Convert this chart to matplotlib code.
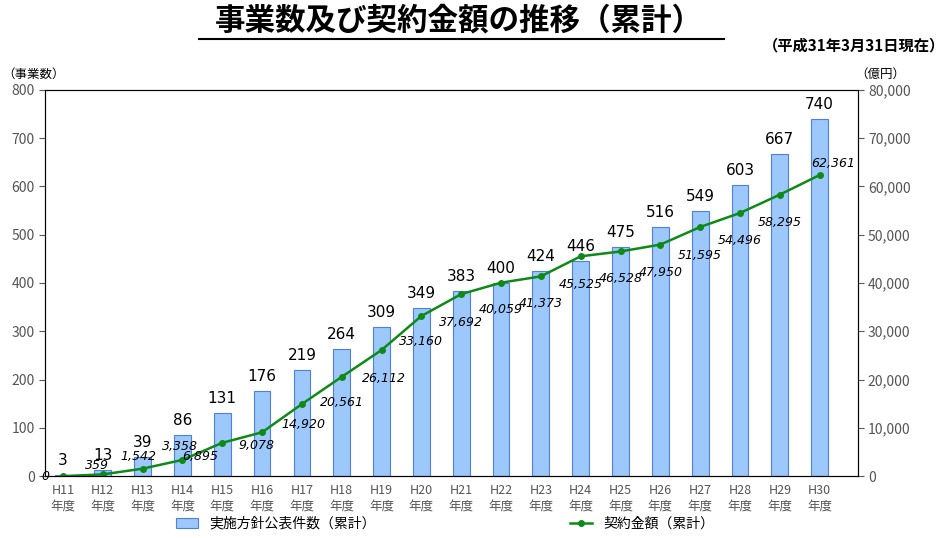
import matplotlib.pyplot as plt
import numpy as np

plt.rcParams['font.family'] = ['Noto Sans CJK JP', 'DejaVu Sans']

years = ['H11', 'H12', 'H13', 'H14', 'H15', 'H16', 'H17', 'H18', 'H19', 'H20',
         'H21', 'H22', 'H23', 'H24', 'H25', 'H26', 'H27', 'H28', 'H29', 'H30']
projects = [3, 13, 39, 86, 131, 176, 219, 264, 309, 349,
            383, 400, 424, 446, 475, 516, 549, 603, 667, 740]
amounts = [0, 359, 1542, 3358, 6895, 9078, 14920, 20561, 26112, 33160,
           37692, 40059, 41373, 45525, 46528, 47950, 51595, 54496, 58295, 62361]

# label offsets in pixels (dx, dy up-positive)
offs = [(-18, 0), (-6, 9), (-4, 12), (-2, 13), (-22, -14), (-6, -13), (2, -20),
        (0, -26), (2, -28), (0, -25), (0, -28), (0, -27), (0, -27), (0, -28),
        (0, -27), (0, -28), (0, -28), (0, -28), (0, -28), (14, 12)]

fig = plt.figure(figsize=(9.47, 5.38), dpi=100)
ax = fig.add_axes([0.0475, 0.115, 0.858, 0.718])
x = np.arange(len(years))
ax.bar(x, projects, width=0.42, color='#9dc8fb', edgecolor='#4f7fe0', linewidth=0.8,
       label='実施方針公表件数（累計）')
for xi, v in zip(x, projects):
    ax.annotate(str(v), (xi, v), xytext=(0, 7), textcoords='offset pixels',
                ha='center', va='bottom', fontsize=11, family='DejaVu Sans')
ax.set_ylim(0, 800)
ax.set_yticks(range(0, 801, 100))
ax.set_xlim(-0.45, len(years) - 0.05)
ax.set_xticks(x)
ax.set_xticklabels([y + '\n年度' for y in years], fontsize=9, color='#555555')
ax.tick_params(axis='y', labelsize=10, colors='#555555', length=4)
ax.tick_params(axis='x', length=0, pad=6)
for s in ax.spines.values():
    s.set_color('#333333')

ax2 = ax.twinx()
ax2.plot(x, amounts, color='#0e8a16', marker='o', markersize=4, linewidth=1.8,
         label='契約金額（累計）')
for xi, v, (dx, dy) in zip(x, amounts, offs):
    ax2.annotate(f'{v:,}', (xi, v), xytext=(dx, dy), textcoords='offset pixels',
                 ha='center', va='center', fontsize=9, style='italic', family='DejaVu Sans')
ax2.set_ylim(0, 80000)
ax2.set_yticks(range(0, 80001, 10000))
ax2.set_yticklabels([f'{v:,}' for v in range(0, 80001, 10000)])
ax2.tick_params(axis='y', labelsize=10, colors='#555555', length=4)

fig.text(0.035, 0.855, '（事業数）', fontsize=9, ha='center')
fig.text(0.93, 0.855, '（億円）', fontsize=9, ha='center')
fig.text(0.485, 0.962, '事業数及び契約金額の推移（累計）', fontsize=22, weight='bold',
         ha='center', va='center')
fig.add_artist(plt.Line2D([0.21, 0.765], [0.928, 0.928], color='black', linewidth=1.5))
fig.text(0.998, 0.916, '（平成31年3月31日現在）', fontsize=11, weight='bold', ha='right', va='center')

h1, l1 = ax.get_legend_handles_labels()
h2, l2 = ax2.get_legend_handles_labels()
fig.legend(h1 + h2, l1 + l2, loc='lower center', bbox_to_anchor=(0.47, -0.01), ncol=2,
           frameon=False, fontsize=10, columnspacing=14, handlelength=1.6)
fig.savefig('out.png', dpi=100)
